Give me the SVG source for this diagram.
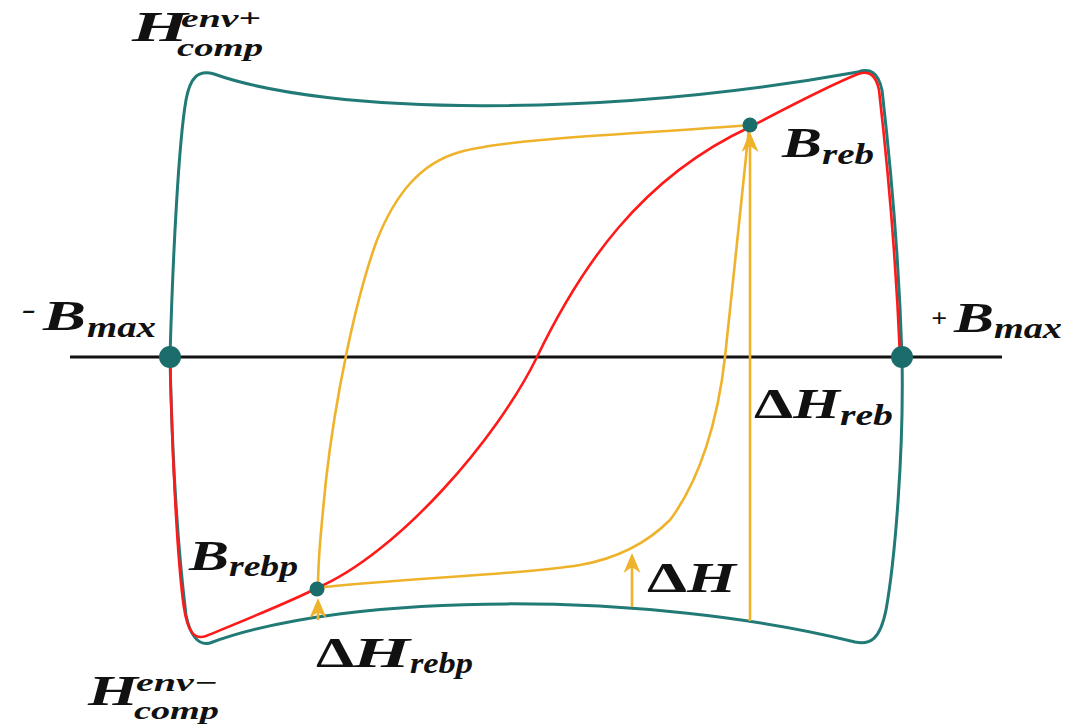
<svg xmlns="http://www.w3.org/2000/svg" width="1088" height="727" viewBox="0 0 1088 727">
<style>
.env{fill:none;stroke:#227a77;stroke-width:3;stroke-linejoin:round}
.red{fill:none;stroke:#ff1a1a;stroke-width:2.6}
.yel{fill:none;stroke:#efb22b;stroke-width:2.6}
.axis{stroke:#111;stroke-width:3}
.dot{fill:#1b6d6b}
.t{font-family:"Liberation Serif","DejaVu Serif",serif;font-weight:bold;font-style:italic;fill:#111}
.big{font-size:43px}
.sm{font-size:29px}
.xs{font-size:25px}
.d{font-family:"Liberation Serif","DejaVu Serif",serif;font-weight:bold;fill:#111;font-size:43px}
</style>
<defs>
<marker id="ah" viewBox="-21 -10 22 20" refX="-6" refY="0" markerWidth="22" markerHeight="20" markerUnits="userSpaceOnUse" orient="auto">
<path d="M0,0 L-20,-8.5 L-14,0 L-20,8.5 Z" fill="#efb22b"/>
</marker>
</defs>
<rect width="1088" height="727" fill="#fff"/>
<line class="axis" x1="70" y1="357" x2="1002" y2="357"/>
<g id="envelope">
<path class="env" d="M170,357 C173,250 179,140 186,100 C190,78 198,69 214,74 C330,115 600,118 858,72 C870,68 878,72 882,90 C890,160 899,260 902,357 C904,450 895,560 886,610 C880,640 870,645 855,642 C650,591 350,591 210,643 C198,646 190,635 186,615 C178,550 172,450 170,357 Z"/>
</g>
<g id="major-loop">
<path class="red" d="M170,357 C172,450 177,560 184,608 C188,632 194,640 206,636 C240,622 290,602 317,588 C397,554 497,439 537,357 C580,268 640,178 750,127 C790,106 830,85 858,74 C869,70 876,75 879,90 C887,160 896,260 900,357"/>
</g>
<g id="minor-loop">
<path class="yel" d="M750,125 C640,134 510,138 460,152 C420,163 395,195 377,240 C355,300 335,400 326,480 C321,530 318,560 318,588"/>
<path class="yel" d="M317,588 C400,578 520,575 580,565 C620,558 650,540 670,520 C700,480 718,420 725,357 C733,280 742,200 749,128"/>
</g>
<g id="connectors">
<line class="yel" x1="318" y1="620" x2="318" y2="604" marker-end="url(#ah)"/>
<line class="yel" x1="632" y1="607" x2="632" y2="559" marker-end="url(#ah)"/>
<line class="yel" x1="750" y1="621" x2="750" y2="138" marker-end="url(#ah)"/>
</g>
<g id="node-Bmax-neg">
<circle class="dot" cx="170" cy="357" r="11"/>
<text class="t xs" x="22" y="318" textLength="14" lengthAdjust="spacingAndGlyphs">-</text>
<text class="t big" x="43" y="330" textLength="43" lengthAdjust="spacingAndGlyphs">B</text>
<text class="t sm" x="87" y="337" textLength="69" lengthAdjust="spacingAndGlyphs">max</text>
</g>
<g id="node-Bmax-pos">
<circle class="dot" cx="902" cy="357" r="11"/>
<text class="t xs" x="931" y="327" textLength="16" lengthAdjust="spacingAndGlyphs">+</text>
<text class="t big" x="954" y="332" textLength="40" lengthAdjust="spacingAndGlyphs">B</text>
<text class="t sm" x="994" y="338" textLength="68" lengthAdjust="spacingAndGlyphs">max</text>
</g>
<g id="node-Breb">
<circle class="dot" cx="750" cy="125" r="7.5"/>
<text class="t big" x="782" y="157" textLength="40" lengthAdjust="spacingAndGlyphs">B</text>
<text class="t sm" x="822" y="164" textLength="52" lengthAdjust="spacingAndGlyphs">reb</text>
</g>
<g id="node-Brebp">
<circle class="dot" cx="317" cy="589" r="7.5"/>
<text class="t big" x="189" y="570" textLength="40" lengthAdjust="spacingAndGlyphs">B</text>
<text class="t sm" x="229" y="576" textLength="69" lengthAdjust="spacingAndGlyphs">rebp</text>
</g>
<g id="label-Henv-pos">
<text class="t big" x="132" y="41" textLength="56" lengthAdjust="spacingAndGlyphs">H</text>
<text class="t xs" x="181" y="27" textLength="80" lengthAdjust="spacingAndGlyphs">env+</text>
<text class="t xs" x="177" y="56" textLength="86" lengthAdjust="spacingAndGlyphs">comp</text>
</g>
<g id="label-Henv-neg">
<text class="t big" x="88" y="705" textLength="50" lengthAdjust="spacingAndGlyphs">H</text>
<text class="t xs" x="136" y="691" textLength="82" lengthAdjust="spacingAndGlyphs">env−</text>
<text class="t xs" x="134" y="719" textLength="85" lengthAdjust="spacingAndGlyphs">comp</text>
</g>
<g id="label-dHreb">
<text class="d" x="754" y="418" textLength="39" lengthAdjust="spacingAndGlyphs">Δ</text>
<text class="t big" x="793" y="418" textLength="47" lengthAdjust="spacingAndGlyphs">H</text>
<text class="t sm" x="840" y="425" textLength="53" lengthAdjust="spacingAndGlyphs">reb</text>
</g>
<g id="label-dH">
<text class="d" x="647" y="592" textLength="40" lengthAdjust="spacingAndGlyphs">Δ</text>
<text class="t big" x="687" y="592" textLength="49" lengthAdjust="spacingAndGlyphs">H</text>
</g>
<g id="label-dHrebp">
<text class="d" x="316" y="667" textLength="38" lengthAdjust="spacingAndGlyphs">Δ</text>
<text class="t big" x="353" y="667" textLength="57" lengthAdjust="spacingAndGlyphs">H</text>
<text class="t sm" x="410" y="673" textLength="63" lengthAdjust="spacingAndGlyphs">rebp</text>
</g>
</svg>
